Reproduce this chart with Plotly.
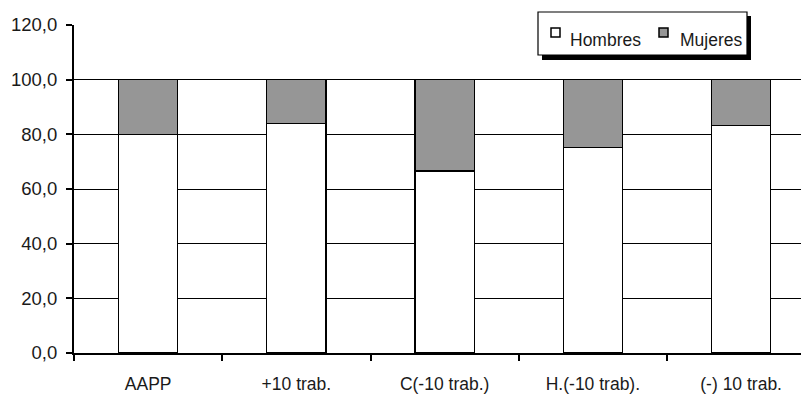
import plotly.graph_objects as go

# Distribución por sexo (%) en cada grupo
categorias = ["AAPP", "+10 trab.", "C(-10 trab.)", "H.(-10 trab).", "(-) 10 trab."]
hombres = [80.0, 84.0, 66.6, 75.3, 83.3]
mujeres = [20.0, 16.0, 33.4, 24.7, 16.7]
y_ticks = [0, 20, 40, 60, 80, 100, 120]
y_tick_text = ["0,0", "20,0", "40,0", "60,0", "80,0", "100,0", "120,0"]

series = [("Hombres", hombres, "white"), ("Mujeres", mujeres, "#969696")]

FONT = "Liberation Sans, Arial, sans-serif"
INK = "#1a1a1a"

# Plot-area geometry in pixels (used to place the legend box)
L, R, T, B = 74, 801, 25, 353


def px(x):
    return (x - L) / (R - L)


def py(y):
    return (B - y) / (B - T)


fig = go.Figure()
for nombre, valores, color in series:
    fig.add_trace(go.Bar(
        x=categorias, y=valores, name=nombre,
        marker=dict(color=color, line=dict(color="black", width=1.2)),
        width=0.4, showlegend=False,
    ))

# Legend drawn as a framed box with a drop shadow
shapes = [
    dict(type="rect", xref="paper", yref="paper",
         x0=px(542), x1=px(751), y0=py(60), y1=py(16),
         fillcolor="black", line=dict(width=0), layer="above"),
    dict(type="rect", xref="paper", yref="paper",
         x0=px(538), x1=px(747), y0=py(55), y1=py(12),
         fillcolor="white", line=dict(color="black", width=1.2), layer="above"),
]
annotations = []
legend_items = [(551, 569), (659, 679)]
for (mx, tx), (nombre, _, color) in zip(legend_items, series):
    shapes.append(dict(type="rect", xref="paper", yref="paper",
                       x0=px(mx), x1=px(mx + 9), y0=py(37), y1=py(28),
                       fillcolor=color, line=dict(color="black", width=1.5),
                       layer="above"))
    annotations.append(dict(text=nombre, xref="paper", yref="paper",
                            x=px(tx - 1), y=py(40), xanchor="left", yanchor="middle",
                            showarrow=False,
                            font=dict(family=FONT, size=17.5, color=INK)))

fig.update_layout(
    width=801, height=398,
    margin=dict(l=L, r=801 - R, t=T, b=398 - B),
    paper_bgcolor="white", plot_bgcolor="white",
    barmode="stack",
    font=dict(family=FONT, color=INK),
    showlegend=False,
    shapes=shapes,
    annotations=annotations,
    xaxis=dict(
        type="category",
        range=[-0.5, -0.5 + (R - L) / 148.25],
        tickson="boundaries",
        ticks="outside", ticklen=6, tickwidth=1.5, tickcolor="black",
        showline=True, linecolor="black", linewidth=2,
        showgrid=False,
        ticklabelstandoff=14,
        tickfont=dict(family=FONT, size=17.5, color=INK),
        fixedrange=True,
    ),
    yaxis=dict(
        range=[0, 120],
        tickvals=y_ticks, ticktext=y_tick_text,
        ticks="outside", ticklen=6, tickwidth=1.5, tickcolor="black",
        showline=True, linecolor="black", linewidth=2,
        showgrid=True, gridcolor="black", gridwidth=1,
        zeroline=False,
        ticklabelstandoff=5,
        tickfont=dict(family=FONT, size=18.5, color=INK),
        fixedrange=True,
    ),
)

fig.write_html("out.html")
